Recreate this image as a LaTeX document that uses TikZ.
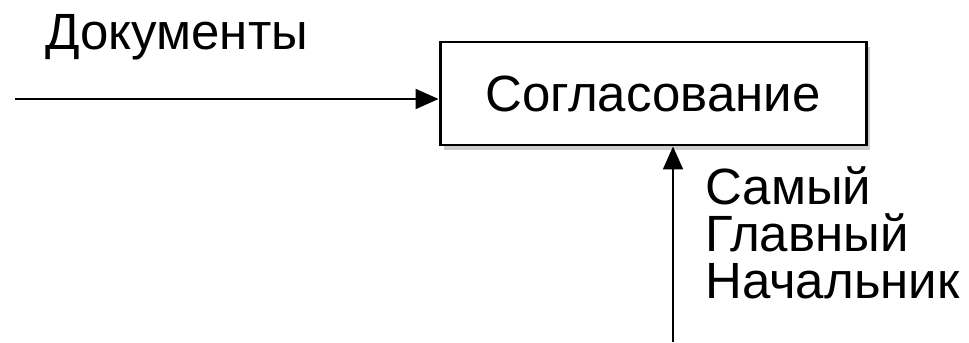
\documentclass[tikz,border=0pt]{standalone}
\usepackage{fontspec}
\setmainfont{Liberation Sans}
\usetikzlibrary{positioning,arrows.meta,shadows}

\begin{document}
\begin{tikzpicture}[font=\fontsize{29}{26.5}\selectfont,
    funcbox/.style={draw, line width=1.7pt, fill=white, minimum width=8.52cm, minimum height=2.06cm,
      drop shadow={shadow xshift=0.08cm, shadow yshift=-0.1cm, opacity=0.4}},
    flow/.style={line width=1.2pt, -{Triangle[length=4.6mm,width=4mm]}}]
  \useasboundingbox (0,0) rectangle (19.38,6.84);
  \node[funcbox] (soglas) at (13.06,4.97) {Согласование};
  \coordinate (docin) at (0.3,4.86);
  \coordinate (bossin) at (13.46,0);
  \node[anchor=base west, inner sep=0pt] (doclbl) at (0.9,5.84) {Документы};
  \node[anchor=base west, align=left, inner sep=0pt] (bosslbl) at (14.1,0.88) {Самый\\Главный\\Начальник};
  \draw[flow] (docin) -- (docin -| soglas.west);
  \draw[flow] (bossin) -- (bossin |- soglas.south);
\end{tikzpicture}
\end{document}
